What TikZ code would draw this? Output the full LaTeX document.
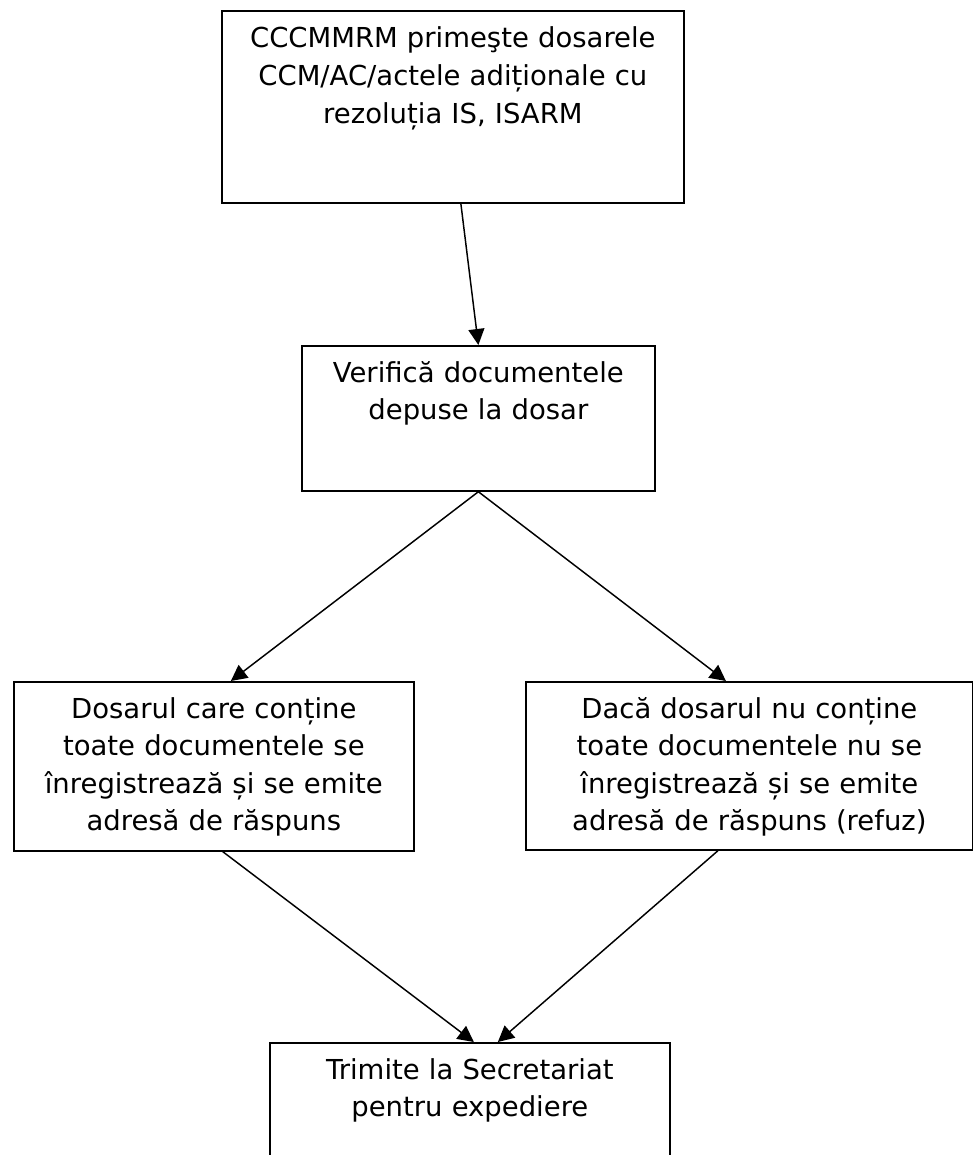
\documentclass[tikz,border=0pt]{standalone}
\usepackage{fontspec}
\setmainfont{DejaVu Sans}
\usepackage{tikz}
\usetikzlibrary{arrows.meta}

\tikzset{
  stepbox/.style={draw, line width=1.3pt, anchor=north west, inner sep=0pt},
  steptext/.style={anchor=base, align=center, inner sep=0pt, font=\fontsize{20.6pt}{28.2pt}\selectfont},
  flow/.style={line width=1.1pt, -{Triangle[length=12pt,width=12pt]}}
}

\begin{document}
\begin{tikzpicture}[x=0.75pt,y=-0.75pt]
\clip (0,0) rectangle (973,1155);

\node[stepbox, minimum width=346.5pt, minimum height=144pt] (primire) at (221,10) {};
\node[steptext, text width=340pt] (primiretxt) at ([yshift=-28.5pt]primire.north) {CCCMMRM primeşte dosarele\\CCM/AC/actele adiționale cu\\rezoluția IS, ISARM};

\node[stepbox, minimum width=264.75pt, minimum height=108.75pt] (verif) at (301,345) {};
\node[steptext, text width=260pt] (veriftxt) at ([yshift=-28pt]verif.north) {Verifică documentele\\depuse la dosar};

\node[stepbox, minimum width=300pt, minimum height=126.75pt] (complet) at (13,681) {};
\node[steptext, text width=296pt] (complettxt) at ([yshift=-27.75pt]complet.north) {Dosarul care conține\\toate documentele se\\înregistrează și se emite\\adresă de răspuns};

\node[stepbox, minimum width=335.25pt, minimum height=126pt] (refuz) at (525,681) {};
\node[steptext, text width=330pt] (refuztxt) at ([yshift=-27.75pt]refuz.north) {Dacă dosarul nu conține\\toate documentele nu se\\înregistrează și se emite\\adresă de răspuns (refuz)};

\node[stepbox, minimum width=300pt, minimum height=135pt] (expediere) at (269,1042) {};
\node[steptext, text width=296pt] (expedieretxt) at ([yshift=-27.75pt]expediere.north) {Trimite la Secretariat\\pentru expediere};

\draw[flow] ([xshift=6pt]primire.south) -- (verif.north);
\draw[flow] (verif.south) -- ([xshift=12.75pt]complet.north);
\draw[flow] (verif.south) -- ([xshift=-17.6pt]refuz.north);
\draw[flow] ([xshift=6.75pt]complet.south) -- ([xshift=3pt]expediere.north);
\draw[flow] ([xshift=-23.6pt]refuz.south) -- ([xshift=21pt]expediere.north);
\end{tikzpicture}
\end{document}
